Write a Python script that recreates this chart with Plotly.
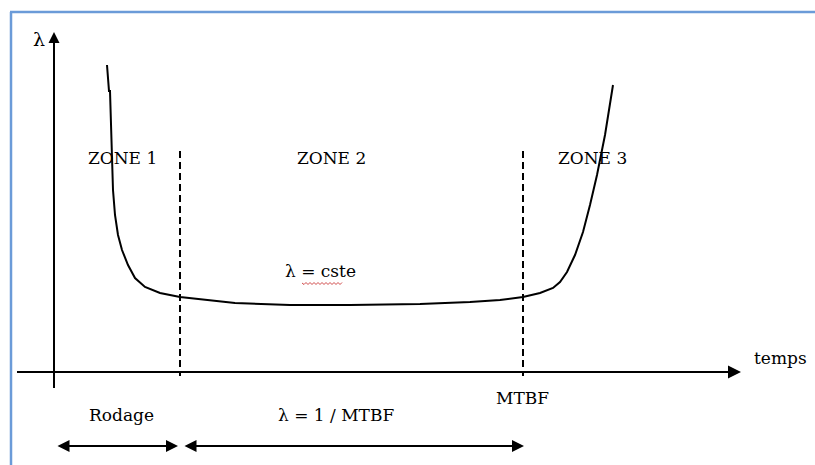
import plotly.graph_objects as go

# Bathtub curve (pixel-space points)
curve_x = [107, 109, 110, 111, 113, 115, 118, 122, 128, 135, 145, 160, 180, 235, 290, 350, 420, 470, 500, 523, 540, 553, 560, 567, 575, 583, 590, 597, 605, 613]
curve_y = [65, 91, 91, 130, 190, 215, 235, 250, 265, 278, 287, 293, 297, 303, 305, 305, 304, 302, 300, 297, 293, 288, 282, 272, 255, 232, 205, 175, 135, 85]

# Zone boundaries (dashed verticals)
boundary_x = [180, 523]
boundary_top = 151

zone_labels = ["ZONE 1", "ZONE 2", "ZONE 3"]
zone_label_x = [122, 331, 592]
zone_label_y = 158

axis_origin = (54, 372)
x_axis_end = 741
y_axis_end = 32

bottom_arrows = [(56, 178), (183, 524)]
bottom_arrow_y = 446

FONT = "DejaVu Serif"

fig = go.Figure()
fig.add_trace(go.Scatter(x=curve_x, y=curve_y, mode="lines",
                         line=dict(color="black", width=2), hoverinfo="skip"))

shapes = []
# blue frame
shapes.append(dict(type="line", x0=10, y0=12, x1=815, y1=12, line=dict(color="#6b9bd8", width=2.5)))
shapes.append(dict(type="line", x0=11, y0=12, x1=11, y1=465, line=dict(color="#6b9bd8", width=2.5)))
# dashed boundaries
for bx in boundary_x:
    shapes.append(dict(type="line", x0=bx, y0=boundary_top, x1=bx, y1=axis_origin[1] + 4,
                       line=dict(color="black", width=2, dash="7px,4px")))
# axes
shapes.append(dict(type="line", x0=17, y0=axis_origin[1], x1=x_axis_end - 10, y1=axis_origin[1],
                   line=dict(color="black", width=2)))
shapes.append(dict(type="line", x0=axis_origin[0], y0=388, x1=axis_origin[0], y1=y_axis_end + 8,
                   line=dict(color="black", width=2)))

# red spell-check squiggle under "cste"
sq_x0, sq_x1, sq_y = 302, 342, 283
path = f"M {sq_x0},{sq_y}"
k = 0
xx = sq_x0
while xx < sq_x1:
    xx += 2
    path += f" L {xx},{sq_y + (1.5 if k % 2 == 0 else -0.5)}"
    k += 1
shapes.append(dict(type="path", path=path, line=dict(color="#d04a4a", width=1)))

annotations = []
# axis arrowheads
annotations.append(dict(x=x_axis_end, y=axis_origin[1], ax=x_axis_end - 30, ay=axis_origin[1],
                        xref="x", yref="y", axref="x", ayref="y", text="", showarrow=True,
                        arrowhead=2, arrowsize=1.3, arrowwidth=2, arrowcolor="black"))
annotations.append(dict(x=axis_origin[0], y=y_axis_end, ax=axis_origin[0], ay=y_axis_end + 30,
                        xref="x", yref="y", axref="x", ayref="y", text="", showarrow=True,
                        arrowhead=2, arrowsize=1.1, arrowwidth=2, arrowcolor="black"))
# bottom double arrows
for (a, b) in bottom_arrows:
    annotations.append(dict(x=b, y=bottom_arrow_y, ax=a, ay=bottom_arrow_y,
                            xref="x", yref="y", axref="x", ayref="y", text="", showarrow=True,
                            arrowhead=2, startarrowhead=2, arrowside="end+start",
                            arrowsize=1.2, startarrowsize=1.2, arrowwidth=2, arrowcolor="black"))

def txt(s, x, y, size=16, anchor="center"):
    annotations.append(dict(x=x, y=y, xref="x", yref="y", text=s, showarrow=False,
                            xanchor=anchor, yanchor="middle",
                            font=dict(family=FONT, size=size, color="black")))

for lab, lx in zip(zone_labels, zone_label_x):
    txt(lab, lx, zone_label_y, size=17)
txt("λ", 39, 39, size=19)
txt("temps", 780, 358, size=17)
txt("MTBF", 522, 398, size=17)
txt("Rodage", 121, 415, size=17)
txt("λ = 1 / MTBF", 336, 415, size=17)
txt("λ = cste", 320, 271, size=17)

fig.update_layout(
    width=815, height=465,
    margin=dict(l=0, r=0, t=0, b=0),
    paper_bgcolor="white", plot_bgcolor="white",
    showlegend=False,
    shapes=shapes, annotations=annotations,
    xaxis=dict(range=[0, 815], visible=False, fixedrange=True),
    yaxis=dict(range=[465, 0], visible=False, fixedrange=True),
)
fig.write_html("out.html", config={"displayModeBar": False},
               post_script="document.body.style.margin='0px';")
